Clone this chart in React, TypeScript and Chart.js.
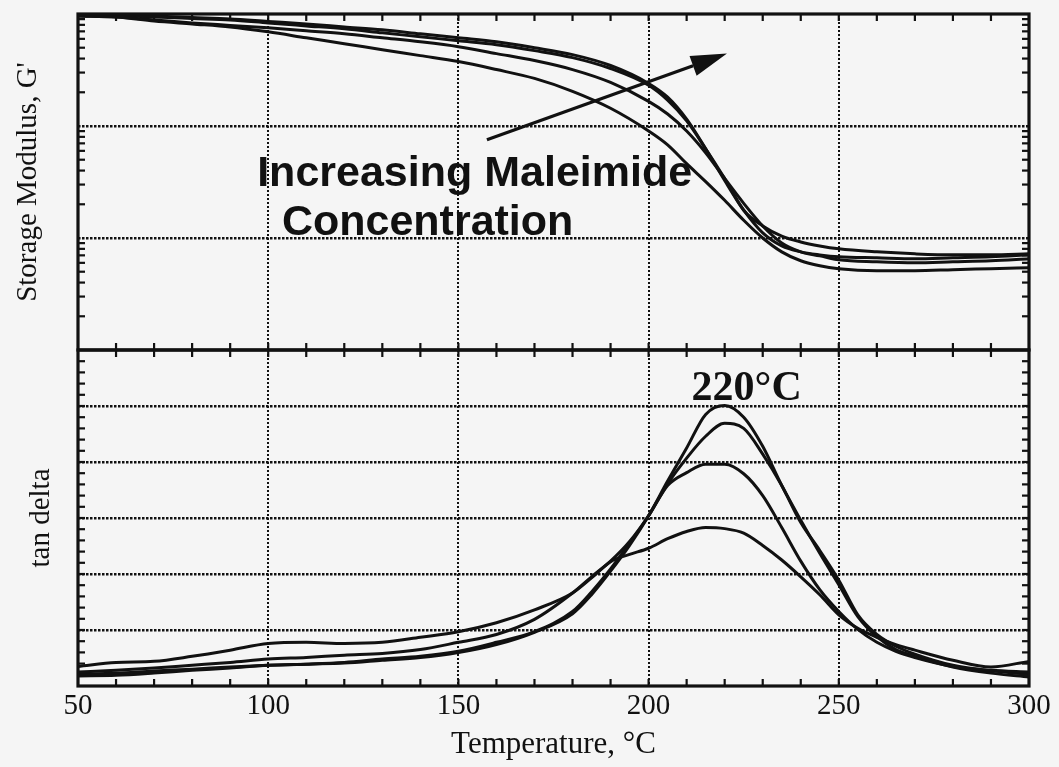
import React, { useEffect, useRef } from "react";
import { Chart, registerables } from "chart.js";

Chart.register(...registerables);

// ---------- data ----------
const temperatureModulus = [50, 60, 70, 80, 90, 100, 110, 120, 130, 140, 150, 160, 170, 180, 190, 200, 205, 210, 215, 220, 225, 230, 235, 240, 245, 250, 260, 270, 280, 290, 300];

const storageModulus1 = [9.6e8, 9.4e8, 8.67e8, 8.16e8, 7.67e8, 6.93e8, 6.13e8, 5.43e8, 4.8e8, 4.25e8, 3.76e8, 3.19e8, 2.66e8, 2.04e8, 1.44e8, 9.03e7, 6.79e7, 4.61e7, 3.19e7, 2.17e7, 1.44e7, 1.0e7, 7.52e6, 6.26e6, 5.65e6, 5.32e6, 5.11e6, 5.11e6, 5.21e6, 5.32e6, 5.43e6];
const storageModulus2 = [9.6e8, 9.4e8, 8.85e8, 8.32e8, 7.91e8, 7.52e8, 7.07e8, 6.65e8, 6.13e8, 5.65e8, 5.11e8, 4.43e8, 3.84e8, 3.19e8, 2.45e8, 1.66e8, 1.28e8, 9.03e7, 5.77e7, 3.4e7, 2.04e7, 1.28e7, 9.03e6, 7.52e6, 6.93e6, 6.38e6, 6.13e6, 6.01e6, 6.13e6, 6.26e6, 6.52e6];
const storageModulus3 = [9.8e8, 9.7e8, 9.4e8, 9.12e8, 8.85e8, 8.32e8, 7.83e8, 7.37e8, 6.79e8, 6.26e8, 5.77e8, 5.32e8, 4.71e8, 4.08e8, 3.26e8, 2.31e8, 1.7e8, 1.11e8, 6.26e7, 3.4e7, 1.77e7, 1.28e7, 1.04e7, 9.22e6, 8.49e6, 8.0e6, 7.52e6, 7.22e6, 7.07e6, 7.07e6, 7.22e6];
const storageModulus4 = [9.8e8, 9.8e8, 9.6e8, 9.31e8, 9.03e8, 8.58e8, 8.16e8, 7.67e8, 7.22e8, 6.65e8, 6.13e8, 5.65e8, 5.0e8, 4.34e8, 3.47e8, 2.4e8, 1.81e8, 1.15e8, 6.26e7, 3.26e7, 1.77e7, 1.11e7, 8.49e6, 7.52e6, 7.07e6, 6.79e6, 6.65e6, 6.52e6, 6.65e6, 6.79e6, 7.07e6];

const temperatureTan = [50, 60, 70, 80, 90, 100, 110, 120, 130, 140, 150, 160, 170, 180, 185, 190, 195, 200, 205, 210, 215, 220, 225, 230, 235, 240, 245, 250, 255, 260, 265, 270, 280, 290, 300];

const tanDelta1 = [0.035, 0.042, 0.044, 0.053, 0.064, 0.076, 0.078, 0.076, 0.078, 0.087, 0.097, 0.113, 0.136, 0.166, 0.193, 0.222, 0.235, 0.246, 0.263, 0.276, 0.283, 0.281, 0.273, 0.251, 0.225, 0.195, 0.163, 0.127, 0.103, 0.087, 0.074, 0.064, 0.046, 0.034, 0.044];
const tanDelta2 = [0.025, 0.028, 0.032, 0.037, 0.042, 0.048, 0.051, 0.055, 0.058, 0.065, 0.078, 0.092, 0.119, 0.166, 0.195, 0.223, 0.258, 0.304, 0.358, 0.381, 0.396, 0.396, 0.379, 0.34, 0.283, 0.223, 0.172, 0.133, 0.101, 0.078, 0.062, 0.051, 0.035, 0.028, 0.025];
const tanDelta3 = [0.021, 0.023, 0.027, 0.03, 0.034, 0.037, 0.039, 0.042, 0.048, 0.053, 0.062, 0.078, 0.097, 0.133, 0.168, 0.209, 0.255, 0.304, 0.361, 0.407, 0.446, 0.469, 0.46, 0.414, 0.358, 0.292, 0.242, 0.189, 0.127, 0.092, 0.071, 0.057, 0.037, 0.027, 0.021];
const tanDelta4 = [0.018, 0.019, 0.023, 0.028, 0.032, 0.037, 0.039, 0.041, 0.046, 0.051, 0.06, 0.074, 0.096, 0.129, 0.163, 0.205, 0.251, 0.304, 0.366, 0.425, 0.485, 0.501, 0.48, 0.428, 0.358, 0.296, 0.237, 0.181, 0.124, 0.088, 0.065, 0.053, 0.034, 0.023, 0.016];

// ---------- axes ----------
const temperatureTicks = [50, 100, 150, 200, 250, 300];
const modulusDecades = [1e6, 1e7, 1e8, 1e9];
const tanDeltaGrid = [0, 0.1, 0.2, 0.3, 0.4, 0.5, 0.6];
const minorTemperatureStep = 10;
const minorTanStep = 0.02;
const logMinorMultipliers = [2, 3, 4, 5, 6, 7, 8, 9];

// ---------- annotations (data coordinates) ----------
const concentrationLines = ["Increasing Maleimide", "Concentration"];
const concentrationX = [97.1, 103.6];
const concentrationY = [2.94e7, 1.06e7];
const arrowTail = { x: 157.5, y: 7.52e7 };
const arrowTip = { x: 220.6, y: 4.43e8 };
const peakLabel = "220°C";
const peakLabelX = 211.3;
const peakLabelY = 0.5115;

const INK = "#111111";
const BG = "#f5f5f5";
const SERIF = '"Liberation Serif", "Times New Roman", serif';
const SANS = '"Liberation Sans", Arial, sans-serif';

const panelPlugin = {
  id: "panelPlugin",
  beforeDraw(chart: any) {
    const { ctx, width, height } = chart;
    ctx.save();
    ctx.fillStyle = BG;
    ctx.fillRect(0, 0, width, height);
    ctx.restore();
  },
  afterDatasetsDraw(chart: any) {
    const { ctx, chartArea, scales } = chart;
    const xs = scales.x;
    const yG = scales.yG;
    const yT = scales.yT;
    const left = chartArea.left;
    const right = chartArea.right;
    const L = 7;
    ctx.save();
    ctx.strokeStyle = INK;
    ctx.lineWidth = 2.2;
    ctx.setLineDash([]);
    const seg = (x1: number, y1: number, x2: number, y2: number) => {
      ctx.beginPath();
      ctx.moveTo(x1, y1);
      ctx.lineTo(x2, y2);
      ctx.stroke();
    };
    for (let t = 50 + minorTemperatureStep; t < 300; t += minorTemperatureStep) {
      const px = xs.getPixelForValue(t);
      seg(px, yG.top, px, yG.top + L);
      seg(px, yG.bottom, px, yG.bottom - L);
      seg(px, yT.top, px, yT.top + L);
      seg(px, yT.bottom, px, yT.bottom - L);
    }
    for (let d = 0; d < modulusDecades.length - 1; d++) {
      for (const k of logMinorMultipliers) {
        const py = yG.getPixelForValue(modulusDecades[d] * k);
        seg(left, py, left + L, py);
        seg(right, py, right - L, py);
      }
    }
    const nMinor = Math.round(0.6 / minorTanStep);
    for (let i = 1; i < nMinor; i++) {
      const py = yT.getPixelForValue(i * minorTanStep);
      seg(left, py, left + L, py);
      seg(right, py, right - L, py);
    }
    ctx.lineWidth = 3.2;
    ctx.strokeRect(left, yG.top, right - left, yG.bottom - yG.top);
    ctx.strokeRect(left, yT.top, right - left, yT.bottom - yT.top);
    ctx.restore();
  },
  afterDraw(chart: any) {
    const { ctx, scales } = chart;
    const xs = scales.x;
    const yG = scales.yG;
    const yT = scales.yT;
    ctx.save();
    ctx.fillStyle = INK;
    ctx.strokeStyle = INK;
    ctx.textAlign = "left";
    ctx.textBaseline = "alphabetic";
    ctx.font = `bold 43px ${SANS}`;
    concentrationLines.forEach((line, i) => {
      ctx.fillText(line, xs.getPixelForValue(concentrationX[i]), yG.getPixelForValue(concentrationY[i]));
    });
    ctx.font = `bold 42px ${SERIF}`;
    ctx.fillText(peakLabel, xs.getPixelForValue(peakLabelX), yT.getPixelForValue(peakLabelY));
    const x1 = xs.getPixelForValue(arrowTail.x);
    const y1 = yG.getPixelForValue(arrowTail.y);
    const x2 = xs.getPixelForValue(arrowTip.x);
    const y2 = yG.getPixelForValue(arrowTip.y);
    const ang = Math.atan2(y2 - y1, x2 - x1);
    const headLen = 36;
    const headHalf = 10.5;
    const bx = x2 - headLen * Math.cos(ang);
    const by = y2 - headLen * Math.sin(ang);
    ctx.lineWidth = 3.2;
    ctx.beginPath();
    ctx.moveTo(x1, y1);
    ctx.lineTo(bx, by);
    ctx.stroke();
    ctx.beginPath();
    ctx.moveTo(x2, y2);
    ctx.lineTo(bx + headHalf * Math.sin(ang), by - headHalf * Math.cos(ang));
    ctx.lineTo(bx - headHalf * Math.sin(ang), by + headHalf * Math.cos(ang));
    ctx.closePath();
    ctx.fill();
    ctx.restore();
  },
};

export default function App() {
  const ref = useRef<HTMLCanvasElement>(null);

  useEffect(() => {
    document.body.style.margin = "0";
    document.body.style.background = BG;
    document.body.style.overflow = "hidden";
    const canvas = ref.current;
    if (!canvas) return;

    const pts = (xs: number[], ys: number[]) => xs.map((x, i) => ({ x, y: ys[i] }));
    const ds = (label: string, xs: number[], ys: number[], axis: string) => ({
      label,
      data: pts(xs, ys),
      yAxisID: axis,
      borderColor: INK,
      borderWidth: 3,
      pointRadius: 0,
      fill: false,
      cubicInterpolationMode: "monotone" as const,
    });

    const edgeColor = (edges: number[]) => (c: any) =>
      c.tick && edges.some((e) => Math.abs(c.tick.value - e) < 1e-9 * Math.max(1, Math.abs(e))) ? "rgba(0,0,0,0)" : INK;

    const chart = new Chart(canvas, {
      type: "line",
      data: {
        datasets: [
          ds("G' 1", temperatureModulus, storageModulus1, "yG"),
          ds("G' 2", temperatureModulus, storageModulus2, "yG"),
          ds("G' 3", temperatureModulus, storageModulus3, "yG"),
          ds("G' 4", temperatureModulus, storageModulus4, "yG"),
          ds("tan δ 1", temperatureTan, tanDelta1, "yT"),
          ds("tan δ 2", temperatureTan, tanDelta2, "yT"),
          ds("tan δ 3", temperatureTan, tanDelta3, "yT"),
          ds("tan δ 4", temperatureTan, tanDelta4, "yT"),
        ],
      },
      options: {
        animation: false,
        responsive: false,
        events: [],
        layout: { padding: { top: 14, right: 30, bottom: 0, left: 0 } },
        plugins: { legend: { display: false }, tooltip: { enabled: false } },
        scales: {
          x: {
            type: "linear",
            position: "bottom",
            min: 50,
            max: 300,
            afterBuildTicks: (s: any) => {
              s.ticks = temperatureTicks.map((value) => ({ value }));
            },
            ticks: {
              color: INK,
              font: { family: SERIF, size: 29, lineHeight: 1 },
              padding: 6,
              maxRotation: 0,
              autoSkip: false,
            },
            grid: { drawTicks: false, lineWidth: 2, color: edgeColor([50, 300]) },
            border: { display: false, dash: [2, 2] },
            title: {
              display: true,
              text: "Temperature, °C",
              color: INK,
              font: { family: SERIF, size: 31, lineHeight: 1 },
              padding: { top: 2, bottom: 7 },
            },
          },
          yT: {
            type: "linear",
            position: "left",
            stack: "panels",
            stackWeight: 1,
            weight: 1,
            min: 0,
            max: 0.6,
            afterBuildTicks: (s: any) => {
              s.ticks = tanDeltaGrid.map((value) => ({ value }));
            },
            ticks: { display: false },
            grid: { drawTicks: false, lineWidth: 2.5, color: edgeColor([0, 0.6]) },
            border: { display: false, dash: [2.5, 1.5] },
            title: {
              display: true,
              text: "tan delta",
              color: INK,
              font: { family: SERIF, size: 29, lineHeight: 1.2 },
              padding: { top: 24, bottom: 19.2 },
            },
          },
          yG: {
            type: "logarithmic",
            position: "left",
            stack: "panels",
            stackWeight: 1,
            weight: 2,
            min: 1e6,
            max: 1e9,
            afterBuildTicks: (s: any) => {
              s.ticks = modulusDecades.map((value) => ({ value }));
            },
            ticks: { display: false },
            grid: { drawTicks: false, lineWidth: 2.5, color: edgeColor([1e6, 1e9]) },
            border: { display: false, dash: [2.5, 1.5] },
            title: {
              display: true,
              text: "Storage Modulus, G'",
              color: INK,
              font: { family: SERIF, size: 29, lineHeight: 1.2 },
              padding: { top: 10.6, bottom: 32.6 },
            },
          },
        },
      } as any,
      plugins: [panelPlugin],
    });

    return () => chart.destroy();
  }, []);

  return <canvas ref={ref} width={1059} height={767} style={{ display: "block" }} />;
}
